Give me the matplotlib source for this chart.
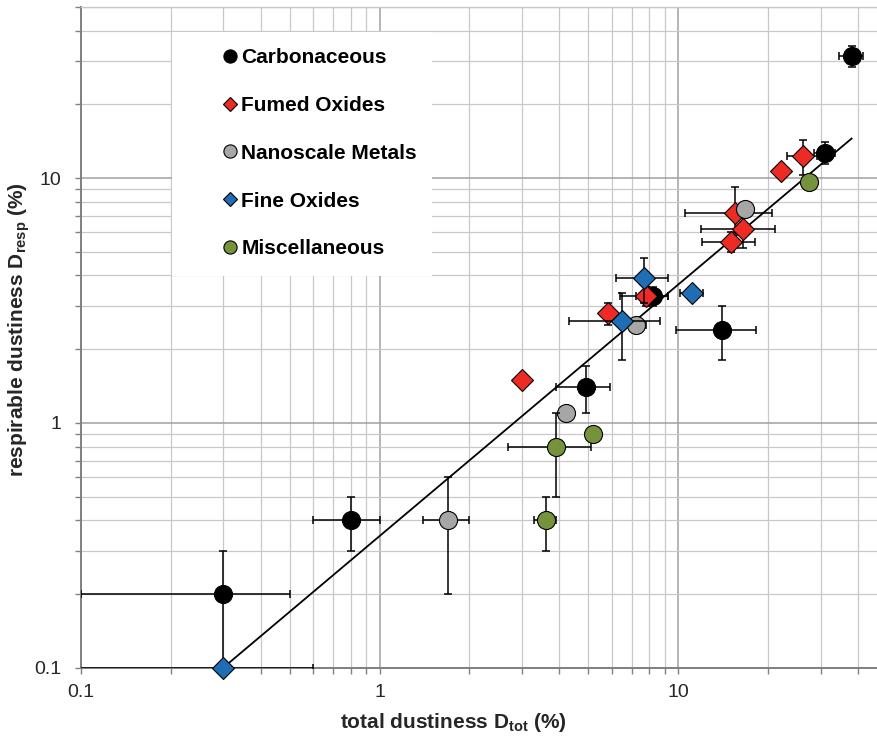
import numpy as np
import matplotlib
matplotlib.use("Agg")
import matplotlib.pyplot as plt
from matplotlib.lines import Line2D
from matplotlib.patches import Rectangle
from matplotlib.ticker import FixedLocator, FixedFormatter, NullFormatter

plt.rcParams['font.family'] = ['Liberation Sans', 'DejaVu Sans']
plt.rcParams['mathtext.fontset'] = 'custom'
plt.rcParams['mathtext.rm'] = 'Liberation Sans'
plt.rcParams['mathtext.bf'] = 'Liberation Sans:bold'

# data (total dustiness, respirable dustiness, errors)
carb_x = [0.3, 0.8, 4.9, 8.2, 14.0, 31.0, 38.0]
carb_y = [0.2, 0.4, 1.4, 3.3, 2.4, 12.7, 31.5]
carb_xerr = [0.2, 0.2, 1.0, 1.0, 4.2, 2.5, 3.4]
carb_yerr = [0.1, 0.1, 0.3, 0.3, 0.6, 1.3, 3.0]

fumed_x = [3.0, 5.8, 7.8, 15.0, 16.5, 15.5, 22.1, 26.1]
fumed_y = [1.5, 2.8, 3.3, 5.5, 6.2, 7.2, 10.7, 12.3]
fumed_xerr = [0, 0, 1.4, 3.0, 4.6, 5.0, 0, 3.0]
fumed_yerr = [0, 0.3, 0.3, 0.5, 1.0, 2.0, 0, 2.0]

nano_x = [1.7, 4.2, 7.2, 16.7]
nano_y = [0.4, 1.1, 2.5, 7.5]
nano_xerr = [0.3, 0.1, 0.6, 0]
nano_yerr = [0.2, 0.05, 0, 0]

fine_x = [0.3, 6.5, 7.7, 11.1]
fine_y = [0.1, 2.6, 3.9, 3.4]
fine_xerr = [0.3, 2.2, 1.5, 1.0]
fine_yerr = [0, 0.8, 0.8, 0]

misc_x = [3.6, 3.9, 5.2, 27.4]
misc_y = [0.4, 0.8, 0.9, 9.6]
misc_xerr = [0.3, 1.2, 0.2, 0]
misc_yerr = [0.1, 0.3, 0.05, 0]

fit_x = [0.3, 38.0]
fit_y = [0.1, 14.5]

labels = ['Carbonaceous', 'Fumed Oxides', 'Nanoscale Metals', 'Fine Oxides', 'Miscellaneous']
colors = ['#000000', '#ee2a24', '#a6a6a6', '#1f6db5', '#76923c']
markers = ['o', 'D', 'o', 'D', 'o']
sizes = [13, 11.5, 13, 11.5, 13]
leg_sizes = [9.5, 7, 9.5, 7, 9.5]

series = [
    (carb_x, carb_y, carb_xerr, carb_yerr),
    (fumed_x, fumed_y, fumed_xerr, fumed_yerr),
    (nano_x, nano_y, nano_xerr, nano_yerr),
    (fine_x, fine_y, fine_xerr, fine_yerr),
    (misc_x, misc_y, misc_xerr, misc_yerr),
]

fig = plt.figure(figsize=(8.78, 7.36), dpi=100)
ax = fig.add_axes([0.0919, 0.0928, 0.9186, 0.8978])
ax.set_xscale('log')
ax.set_yscale('log')
ax.set_xlim(0.1, 50)
ax.set_ylim(0.1, 50)

for axis in (ax.xaxis, ax.yaxis):
    axis.set_major_locator(FixedLocator([0.1, 1, 10]))
    axis.set_major_formatter(FixedFormatter(['0.1', '1', '10']))
    axis.set_minor_formatter(NullFormatter())

ax.set_axisbelow(True)
ax.grid(which='major', color='#a0a0a0', lw=1.1)
ax.grid(which='minor', color='#c8c8c8', lw=0.9)

for s in ['left', 'bottom']:
    ax.spines[s].set_color('#808080')
    ax.spines[s].set_linewidth(1.4)
ax.spines['right'].set_visible(False)
ax.spines['top'].set_color('#c8c8c8')
ax.spines['top'].set_linewidth(1.0)

ax.tick_params(which='both', direction='out', length=4, width=1, color='#808080',
               labelsize=14, labelcolor='#262626')
ax.tick_params(axis='x', which='both', pad=8)
ax.tick_params(axis='y', which='both', pad=10)

# white legend background
ax.add_patch(Rectangle((0.1132, 0.5928), 0.3224, 0.3692, transform=ax.transAxes,
                       fc='white', ec='none', zorder=1))

ax.plot(fit_x, fit_y, color='black', lw=1.3, zorder=2)

for i, (x, y, xe, ye) in enumerate(series):
    x = np.array(x); y = np.array(y)
    xe = np.array(xe); ye = np.array(ye)
    xlo = np.minimum(xe, x * 0.999)
    ylo = np.minimum(ye, y * 0.999)
    ax.errorbar(x, y, xerr=[xlo, xe], yerr=[ylo, ye], fmt='none', ecolor='black',
                elinewidth=1.1, capsize=3, capthick=1.1, zorder=3 + 2 * i)
    ax.plot(x, y, ls='none', marker=markers[i], ms=sizes[i], mfc=colors[i],
            mec='black', mew=0.8, zorder=4 + 2 * i, clip_on=False)

handles = [Line2D([], [], ls='none', marker=markers[i], ms=leg_sizes[i], mfc=colors[i],
                  mec='black', mew=0.8) for i in range(len(labels))]
ax.legend(handles, labels, loc='upper left', bbox_to_anchor=(0.1645, 0.950),
          frameon=False, prop={'weight': 'bold', 'size': 15}, labelspacing=1.38,
          handlelength=0.8, handletextpad=0.15, borderpad=0.4, borderaxespad=0)

ax.set_xlabel(r'total dustiness $\mathbf{D_{tot}}$ (%)', fontsize=15, fontweight='bold',
              color='#262626')
ax.xaxis.set_label_coords(0.4616, -0.065)
ax.set_ylabel(r'respirable dustiness $\mathbf{D_{resp}}$ (%)', fontsize=15, fontweight='bold',
              color='#262626')
ax.yaxis.set_label_coords(-0.06, 0.511)

fig.savefig('out.png', dpi=100)
